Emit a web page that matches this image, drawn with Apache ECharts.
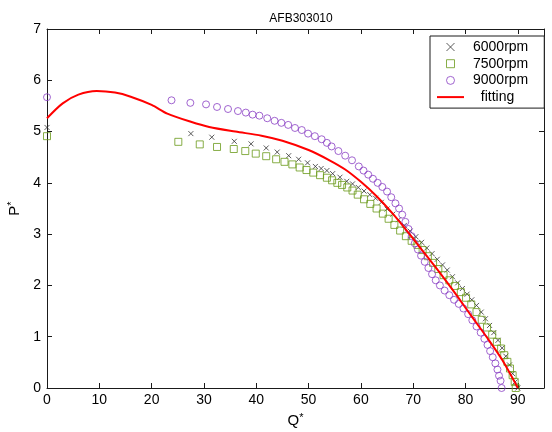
<!DOCTYPE html>
<html><head><meta charset="utf-8">
<script src="https://cdn.jsdelivr.net/npm/echarts@6/dist/echarts.min.js"></script>
<style>html,body{margin:0;padding:0;background:#fff}#c{width:552px;height:432px}</style>
</head><body><div id="c"></div>
<script>
const titleText = 'AFB303010';
const seriesNames = ['6000rpm', '7500rpm', '9000rpm', 'fitting'];
const xTicks = [0, 10, 20, 30, 40, 50, 60, 70, 80, 90];
const yTicks = [0, 1, 2, 3, 4, 5, 6, 7];

const q6000 = [0, 27.5, 31.5, 35.8, 39, 41.9, 44, 46.2, 48.1, 49.8, 51.3, 52.4, 53.5, 54.6, 56, 57.3, 58.4, 59.5, 60.6, 61.7, 62.8, 63.9, 65, 66.1, 67.2, 68.3, 69.4, 70.5, 71.6, 72.6, 73.6, 74.6, 75.6, 76.5, 77.5, 78.5, 79.4, 80.3, 81.2, 82.1, 83, 83.8, 84.6, 85.4, 86.2, 87, 87.7, 88.4, 89, 89.5, 90];
const p6000 = [5.08, 4.96, 4.89, 4.81, 4.76, 4.68, 4.6, 4.53, 4.46, 4.39, 4.32, 4.28, 4.24, 4.18, 4.11, 4.03, 3.98, 3.91, 3.84, 3.77, 3.70, 3.62, 3.49, 3.39, 3.28, 3.17, 3.06, 2.95, 2.84, 2.73, 2.62, 2.51, 2.40, 2.30, 2.17, 2.05, 1.94, 1.83, 1.72, 1.61, 1.48, 1.35, 1.22, 1.08, 0.93, 0.78, 0.62, 0.45, 0.28, 0.12, 0.0];

const q7500 = [0, 25.1, 29.2, 32.5, 35.7, 37.9, 39.9, 41.9, 43.8, 45.4, 46.9, 48.3, 49.6, 50.9, 52.2, 53.5, 54.5, 55.5, 56.4, 57.4, 58.4, 59.4, 60.6, 61.8, 63, 64.2, 65.3, 66.4, 67.5, 68.6, 69.7, 70.8, 71.8, 72.8, 73.8, 74.8, 75.8, 76.9, 78, 79.1, 80.1, 81.1, 82.1, 83.1, 84.1, 85.1, 86, 86.8, 87.4, 88, 88.5, 89, 89.4, 89.6];
const p7500 = [4.91, 4.80, 4.75, 4.70, 4.66, 4.62, 4.57, 4.52, 4.46, 4.41, 4.36, 4.30, 4.25, 4.20, 4.15, 4.10, 4.05, 4.00, 3.96, 3.91, 3.85, 3.77, 3.68, 3.59, 3.50, 3.40, 3.30, 3.18, 3.07, 2.96, 2.87, 2.79, 2.69, 2.57, 2.44, 2.32, 2.20, 2.10, 1.99, 1.87, 1.76, 1.63, 1.48, 1.33, 1.18, 1.04, 0.90, 0.77, 0.64, 0.51, 0.38, 0.25, 0.12, 0.0];

const q9000 = [0, 23.8, 27.4, 30.4, 32.5, 34.6, 36.5, 38, 39.3, 40.6, 42.1, 43.5, 44.8, 46.1, 47.4, 48.7, 49.9, 51.2, 52.5, 53.5, 54.4, 55.7, 57, 58.3, 59.6, 60.5, 61.4, 62.3, 63.2, 64.1, 65, 65.8, 66.6, 67.3, 67.9, 68.5, 69.1, 69.7, 70.3, 70.9, 71.5, 72.2, 72.9, 73.6, 74.3, 75.1, 76, 76.9, 77.8, 78.7, 79.6, 80.5, 81.3, 82.1, 82.9, 83.6, 84.2, 84.7, 85.2, 85.7, 86.1, 86.4, 86.7, 86.9];
const p9000 = [5.67, 5.61, 5.56, 5.53, 5.48, 5.44, 5.40, 5.37, 5.33, 5.31, 5.26, 5.21, 5.17, 5.13, 5.07, 5.03, 4.96, 4.91, 4.85, 4.78, 4.71, 4.62, 4.53, 4.44, 4.32, 4.24, 4.16, 4.08, 4.0, 3.92, 3.83, 3.72, 3.60, 3.50, 3.38, 3.24, 3.10, 2.96, 2.82, 2.70, 2.58, 2.46, 2.34, 2.22, 2.10, 2.00, 1.90, 1.81, 1.72, 1.64, 1.55, 1.44, 1.32, 1.20, 1.08, 0.96, 0.84, 0.72, 0.60, 0.48, 0.36, 0.24, 0.14, 0.0];

const qFit = [0, 3, 6, 9.5, 13, 16, 20, 23, 27.5, 31, 36, 41, 45, 50, 54, 57, 60, 63, 66, 69, 72, 75, 78, 81, 84, 87, 90];
const pFit = [5.26, 5.55, 5.72, 5.79, 5.76, 5.68, 5.52, 5.35, 5.19, 5.09, 5.0, 4.92, 4.82, 4.64, 4.44, 4.26, 4.02, 3.74, 3.41, 3.04, 2.65, 2.26, 1.85, 1.42, 1.0, 0.55, 0.0];

const pairs = (xs, ys) => xs.map((x, i) => [x, ys[i]]);
const F = '"Liberation Sans", Arial, Helvetica, sans-serif';
const AX = '#1a1a1a';
const GREEN = '#6a9a1a';
const PURPLE = '#8a3fc4';
const CROSS = '#333333';
const RED = '#ff0000';
const crossPath = 'path://M0,0L10,10M10,0L0,10';
const squarePath = 'path://M0,0L10,0L10,10L0,10Z';
const barPath = 'path://M0,0L27,0L27,2L0,2Z';

const chart = echarts.init(document.getElementById('c'), null, {renderer: 'canvas'});
const baseAxis = {
  type: 'value', splitLine: {show: false},
  axisLine: {show: true, onZero: false, lineStyle: {color: AX, width: 1}},
  axisTick: {show: true, inside: true, length: 5, lineStyle: {color: AX}},
};
chart.setOption({
  animation: false,
  backgroundColor: '#fff',
  title: {text: titleText, left: 296, top: 8, textAlign: 'center',
    textStyle: {fontFamily: F, fontSize: 12, fontWeight: 'normal', color: '#000'}},
  grid: {left: 47, right: 8, top: 29, bottom: 44, containLabel: false, outerBoundsMode: 'none'},
  legend: {
    orient: 'vertical', left: 430, top: 36, symbolKeepAspect: true,
    padding: [4, 16, 4, 7], itemGap: 2.7, itemWidth: 27, itemHeight: 8,
    borderColor: AX, borderWidth: 1, backgroundColor: '#fff',
    textStyle: {fontFamily: F, fontSize: 14, color: '#000', lineHeight: 14, padding: [0, 0, 0, 4]},
    formatter: n => n === 'fitting' ? '  fitting' : n,
    data: [
      {name: seriesNames[0], icon: crossPath, itemStyle: {color: 'rgba(0,0,0,0)', borderColor: CROSS, borderWidth: 1}},
      {name: seriesNames[1], icon: squarePath, itemStyle: {color: 'rgba(0,0,0,0)', borderColor: GREEN, borderWidth: 1}},
      {name: seriesNames[2], icon: 'circle', itemStyle: {color: 'rgba(0,0,0,0)', borderColor: PURPLE, borderWidth: 1}},
      {name: seriesNames[3], icon: barPath, itemStyle: {color: RED, borderWidth: 0}, lineStyle: {color: RED, width: 2}}
    ]
  },
  xAxis: [
    Object.assign({}, baseAxis, {min: 0, max: 95, interval: 10, position: 'bottom',
      name: '{a|Q}{b|*}', nameLocation: 'middle', nameGap: 24,
      nameTextStyle: {rich: {a: {fontFamily: F, fontSize: 15, color: '#000'}, b: {fontFamily: F, fontSize: 11, color: '#000', verticalAlign: 'top', padding: [0, 0, 6, 0]}}},
      axisLabel: {show: true, fontFamily: F, fontSize: 14, color: '#000', margin: 5, showMaxLabel: false,
        formatter: v => xTicks.includes(v) ? String(v) : ''}}),
    Object.assign({}, baseAxis, {min: 0, max: 95, interval: 10, position: 'top', axisLabel: {show: false}})
  ],
  yAxis: [
    Object.assign({}, baseAxis, {min: 0, max: 7, interval: 1, position: 'left',
      name: '{a|P}{b|*}', nameLocation: 'middle', nameGap: 23, nameRotate: 90,
      nameTextStyle: {rich: {a: {fontFamily: F, fontSize: 15, color: '#000'}, b: {fontFamily: F, fontSize: 11, color: '#000', verticalAlign: 'top', padding: [0, 0, 6, 0]}}},
      axisLabel: {show: true, fontFamily: F, fontSize: 14, color: '#000', margin: 6,
        formatter: v => yTicks.includes(v) ? String(v) : ''}}),
    Object.assign({}, baseAxis, {min: 0, max: 7, interval: 1, position: 'right', axisLabel: {show: false}})
  ],
  series: [
    {name: seriesNames[0], type: 'scatter', data: pairs(q6000, p6000), symbol: crossPath, symbolSize: 5,
      itemStyle: {color: 'rgba(0,0,0,0)', borderColor: CROSS, borderWidth: 1}, z: 2},
    {name: seriesNames[1], type: 'scatter', data: pairs(q7500, p7500), symbol: 'rect', symbolSize: 7,
      itemStyle: {color: 'rgba(0,0,0,0)', borderColor: GREEN, borderWidth: 1}, z: 2},
    {name: seriesNames[2], type: 'scatter', data: pairs(q9000, p9000), symbol: 'circle', symbolSize: 7,
      itemStyle: {color: 'rgba(0,0,0,0)', borderColor: PURPLE, borderWidth: 1}, z: 2},
    {name: seriesNames[3], type: 'line', data: pairs(qFit, pFit), symbol: 'none', showSymbol: false, smooth: 0.3,
      lineStyle: {color: RED, width: 2}, itemStyle: {color: RED}, z: 3}
  ]
});
</script></body></html>
